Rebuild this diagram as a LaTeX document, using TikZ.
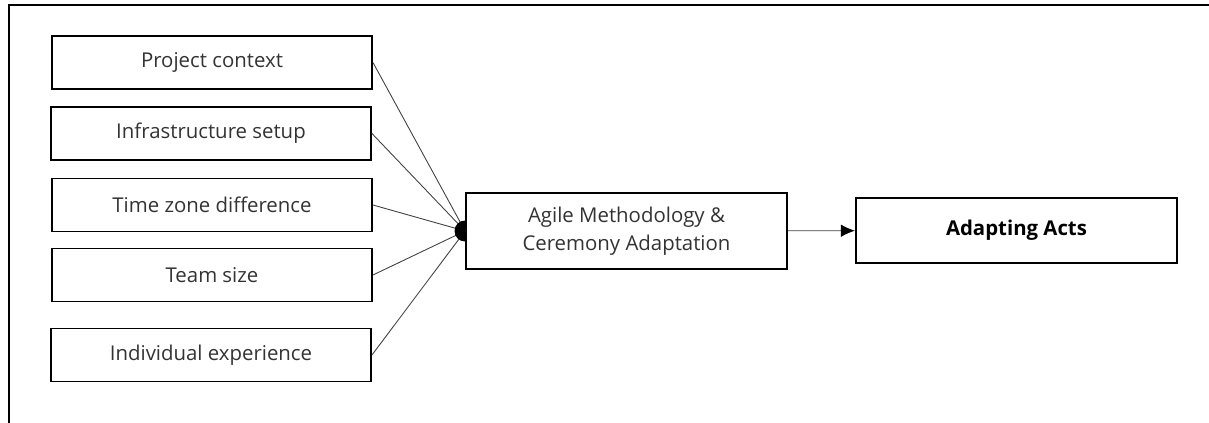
\documentclass[tikz,border=0pt]{standalone}
\usepackage{fontspec}
\setmainfont{Open Sans}
\usepackage{tikz}
\usetikzlibrary{arrows.meta}
\usetikzlibrary{positioning}

\tikzset{
    factor/.style={draw, line width=1.1pt, minimum width=6.4cm, minimum height=1.06cm,
        text=black!80, font=\fontsize{11.6}{16}\selectfont},
    link/.style={line width=0.5pt, black!75}
}

\begin{document}
\begin{tikzpicture}
    \useasboundingbox (0,0) rectangle (24.18,-8.46);
    \draw[line width=1.1pt] (0.18,-8.46) -- (0.18,-0.1) -- (24.18,-0.1);

    \node[factor] (ctx) at (4.24,-1.25) {Project context};
    \node[factor] (infra) at (4.22,-2.67) {Infrastructure setup};
    \node[factor] (tz) at (4.24,-4.10) {Time zone difference};
    \node[factor] (team) at (4.24,-5.50) {Team size};
    \node[factor] (exp) at (4.22,-7.10) {Individual experience};

    \node[factor, minimum width=6.42cm, minimum height=1.52cm, align=center] (agile) at (12.53,-4.62)
        {Agile Methodology \&\\Ceremony Adaptation};
    \node[factor, minimum width=6.42cm, minimum height=1.3cm, text=black, font=\fontsize{11.6}{16}\selectfont\bfseries] (acts) at (20.33,-4.61) {Adapting Acts};

    \draw[link] (ctx.east) -- (agile.west);
    \draw[link] (infra.east) -- (agile.west);
    \draw[link] (tz.east) -- (agile.west);
    \draw[link] (team.east) -- (agile.west);
    \draw[link] (exp.east) -- (agile.west);
    \fill (agile.west) ++(0,0.21) arc[start angle=90, end angle=270, radius=0.21] -- cycle;

    \draw[link, -{Latex[length=8pt, width=7pt, color=black]}] (agile) -- (acts);
\end{tikzpicture}
\end{document}
